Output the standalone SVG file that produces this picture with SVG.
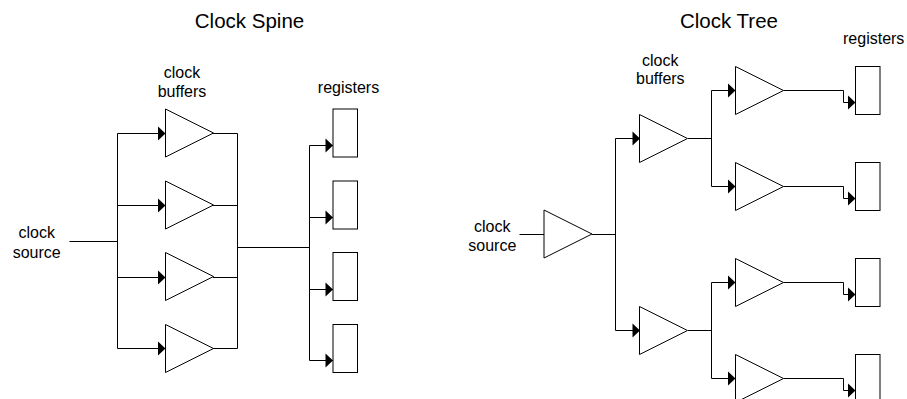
<svg xmlns="http://www.w3.org/2000/svg" width="907" height="399" viewBox="0 0 907 399">
<defs>
<style>
.s{fill:#fff;stroke:#000;stroke-width:1}
.c{fill:none;stroke:#000;stroke-width:1}
.a{fill:#000;stroke:none}
text{font-family:"Liberation Sans",Arial,sans-serif;font-size:16px;fill:#000;text-anchor:middle}
.t{font-size:20.500px}
</style>
<polygon id="h" class="a" points="-7.500,-7 0,0 -7.500,7"/>
<polygon id="b" class="s" points="0,-24 48,0 0,24"/>
</defs>
<rect width="907" height="399" fill="#fff"/>
<g id="titles">
<text class="t" x="249.500" y="28">Clock Spine</text>
<text class="t" x="729" y="28">Clock Tree</text>
</g>
<g id="connectors">
<path class="c" d="M69.500 241.500H117.500M165 133.500H117.500V348.500H165M117.500 205.500H165M117.500 277.500H165"/>
<path class="c" d="M213 133.500H237.500V348.500H213M213 205.500H237.500M213 277.500H237.500M237.500 247.500H309.500"/>
<path class="c" d="M333 145.500H309.500V360.500H333M309.500 217.500H333M309.500 289.500H333"/>
<use href="#h" x="165.500" y="133.500"/><use href="#h" x="165.500" y="205.500"/><use href="#h" x="165.500" y="277.500"/><use href="#h" x="165.500" y="348.500"/>
<use href="#h" x="333" y="145.500"/><use href="#h" x="333" y="217.500"/><use href="#h" x="333" y="289.500"/><use href="#h" x="333" y="360.500"/>
<path class="c" d="M519.500 234.500H544M592 234.500H615.500M640 138.500H615.500V330.500H640"/>
<path class="c" d="M688 138.500H711.500M735.500 90.500H711.500V186.500H735.500M688 330.500H711.500M735.500 282.500H711.500V378.500H735.500"/>
<path class="c" d="M783.500 90.500H843.500V102.500H855.500M783.500 186.500H843.500V198.500H855.500M783.500 282.500H843.500V294.500H855.500M783.500 378.500H843.500V390.500H855.500"/>
<use href="#h" x="640" y="138.500"/><use href="#h" x="640" y="330.500"/>
<use href="#h" x="735.500" y="90.500"/><use href="#h" x="735.500" y="186.500"/><use href="#h" x="735.500" y="282.500"/><use href="#h" x="735.500" y="378.500"/>
<use href="#h" x="855.500" y="102.500"/><use href="#h" x="855.500" y="198.500"/><use href="#h" x="855.500" y="294.500"/><use href="#h" x="855.500" y="390.500"/>
</g>
<g id="spine-labels">
<text x="36.700" y="238.300">clock</text><text x="36.700" y="258.300">source</text>
<text x="182" y="78">clock</text><text x="182" y="97">buffers</text>
<text x="348.500" y="92.700">registers</text>
</g>
<g id="spine-buffer-1"><use href="#b" x="165.500" y="133"/></g>
<g id="spine-buffer-2"><use href="#b" x="165.500" y="205"/></g>
<g id="spine-buffer-3"><use href="#b" x="165.500" y="276.500"/></g>
<g id="spine-buffer-4"><use href="#b" x="165.500" y="348.500"/></g>
<g id="spine-register-1"><rect class="s" x="333" y="109" width="24.500" height="48"/></g>
<g id="spine-register-2"><rect class="s" x="333" y="181" width="24.500" height="48"/></g>
<g id="spine-register-3"><rect class="s" x="333" y="252.500" width="24.500" height="48"/></g>
<g id="spine-register-4"><rect class="s" x="333" y="324.500" width="24.500" height="48"/></g>
<g id="tree-labels">
<text x="492.300" y="232.300">clock</text><text x="492.300" y="251">source</text>
<text x="660.300" y="65.700">clock</text><text x="660.300" y="84.300">buffers</text>
<text x="873.700" y="43.700">registers</text>
</g>
<g id="tree-root"><use href="#b" x="544" y="234"/></g>
<g id="tree-buffer-a"><use href="#b" x="639.500" y="138.500"/></g>
<g id="tree-buffer-b"><use href="#b" x="639.500" y="330.500"/></g>
<g id="tree-leaf-1"><use href="#b" x="735.500" y="90.500"/></g>
<g id="tree-leaf-2"><use href="#b" x="735.500" y="186.500"/></g>
<g id="tree-leaf-3"><use href="#b" x="735.500" y="282.500"/></g>
<g id="tree-leaf-4"><use href="#b" x="735.500" y="378.500"/></g>
<g id="tree-register-1"><rect class="s" x="855.500" y="66.500" width="24.500" height="48"/></g>
<g id="tree-register-2"><rect class="s" x="855.500" y="162.500" width="24.500" height="48"/></g>
<g id="tree-register-3"><rect class="s" x="855.500" y="258.500" width="24.500" height="48"/></g>
<g id="tree-register-4"><rect class="s" x="855.500" y="354.500" width="24.500" height="48"/></g>
</svg>
